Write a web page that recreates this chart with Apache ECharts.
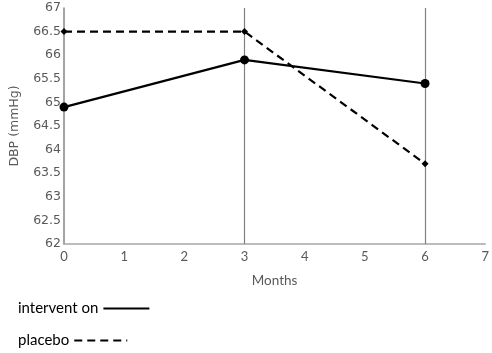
<!DOCTYPE html>
<html>
<head>
<meta charset="utf-8">
<script src="https://cdn.jsdelivr.net/npm/echarts@6/dist/echarts.min.js"></script>
<style>
  html, body { margin: 0; padding: 0; background: #fff; }
  #chart { width: 492px; height: 353px; }
</style>
</head>
<body>
<div id="chart"></div>
<script>
// months at which measurements were taken
const months = [0, 3, 6];
const intervention = [64.9, 65.9, 65.4];
const placebo = [66.5, 66.5, 63.7];
// vertical drop lines
const dropLines = [3, 6];

const chart = echarts.init(document.getElementById("chart"));

// legend shows the label first, then the line sample
const legendBase = {
  orient: "horizontal",
  left: 18,
  padding: 0,
  align: "right",
  itemHeight: 14,
  textStyle: { fontFamily: "Lato", fontSize: 15, color: "#000" },
  itemStyle: { opacity: 0 },
};

chart.setOption({
  animation: false,
  grid: { left: 58, right: 6, top: 8, bottom: 109 },
  legend: [
    Object.assign({}, legendBase, { top: 301, itemWidth: 46, data: ["intervent on"] }),
    Object.assign({}, legendBase, { top: 333, itemWidth: 53, data: ["placebo"] }),
  ],
  xAxis: {
    type: "value",
    min: 0,
    max: 7,
    interval: 1,
    name: "Months",
    nameLocation: "middle",
    nameGap: 30,
    nameTextStyle: { fontFamily: "Lato", fontSize: 13.5, color: "#595959" },
    axisLine: { lineStyle: { color: "#a6a6a6", width: 1.5 } },
    axisTick: { show: false },
    axisLabel: { fontFamily: "Lato", fontSize: 13, color: "#595959", margin: 6 },
    splitLine: { show: false },
  },
  yAxis: {
    type: "value",
    min: 62,
    max: 67,
    interval: 0.5,
    name: "DBP (mmHg)",
    nameLocation: "middle",
    nameGap: 43,
    nameTextStyle: { fontFamily: "DejaVu Sans", fontSize: 12.5, color: "#595959" },
    axisLine: { show: true, lineStyle: { color: "#868686", width: 1.5 } },
    axisTick: { show: false },
    axisLabel: { fontFamily: "DejaVu Sans", fontSize: 12.5, color: "#595959", margin: 3 },
    splitLine: { show: false },
  },
  series: [
    {
      name: "intervent on",
      type: "line",
      data: months.map((m, i) => [m, intervention[i]]),
      symbol: "circle",
      symbolSize: 9,
      itemStyle: { color: "#000" },
      lineStyle: { color: "#000", width: 2.2 },
      z: 3,
      markLine: {
        silent: true,
        symbol: "none",
        label: { show: false },
        lineStyle: { color: "#808080", width: 1.2, type: "solid" },
        data: dropLines.map((m) => ({ xAxis: m })),
        z: 1,
      },
    },
    {
      name: "placebo",
      type: "line",
      data: months.map((m, i) => [m, placebo[i]]),
      symbol: "diamond",
      symbolSize: 7,
      itemStyle: { color: "#000" },
      lineStyle: { color: "#000", width: 2.2, type: [8, 5] },
      z: 3,
    },
  ],
});
</script>
</body>
</html>
